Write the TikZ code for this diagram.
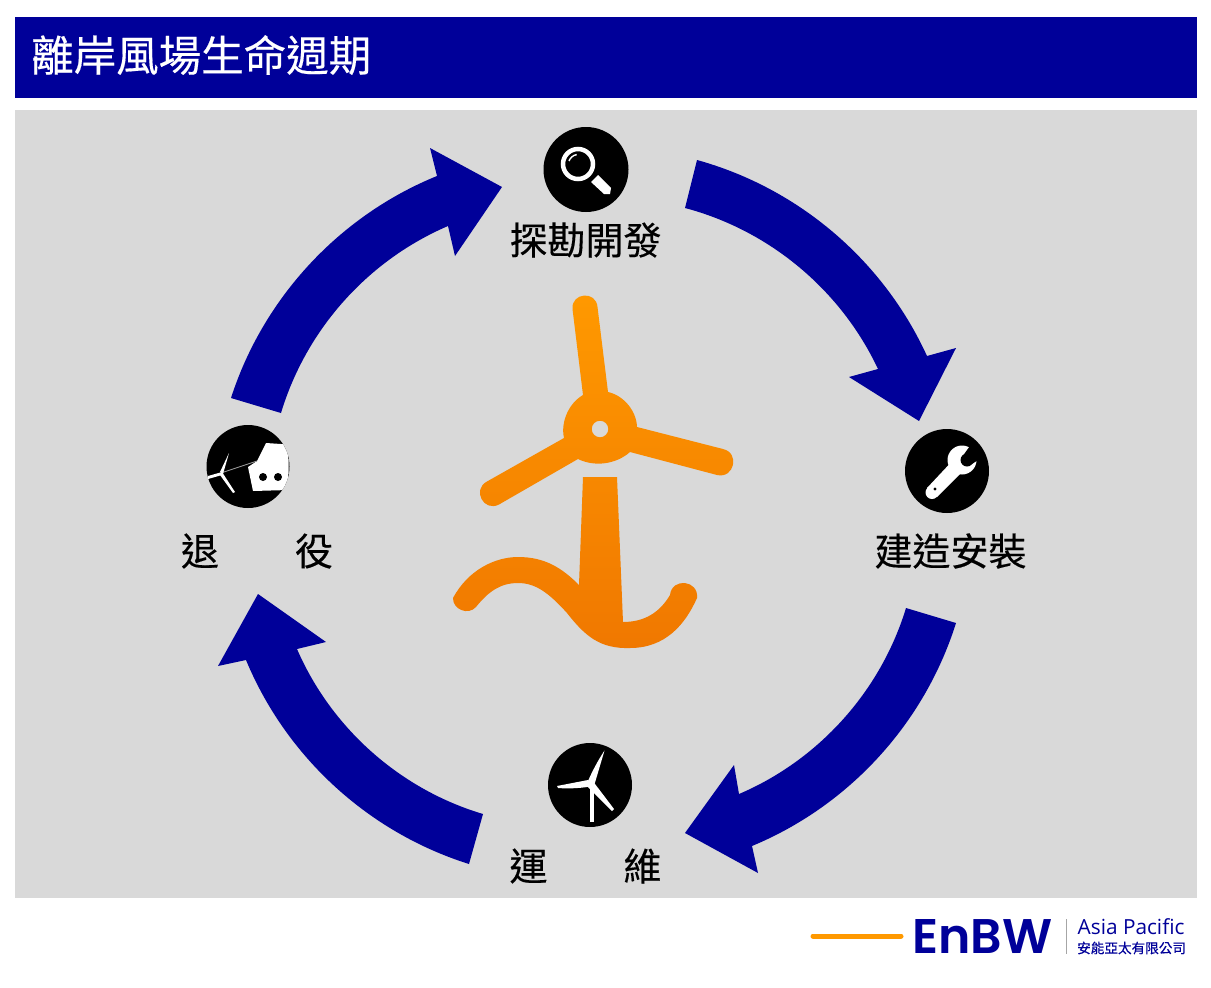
\documentclass[tikz,border=0pt]{standalone}
\usepackage{fontspec}
\usepackage{graphicx}
\newfontfamily\cjk{Noto Sans CJK TC}
\newfontfamily\cjkm{Noto Sans CJK TC}[FakeBold=0.35]
\setmainfont{Open Sans}
\definecolor{navy}{HTML}{000099}
\definecolor{panel}{HTML}{D9D9D9}
\definecolor{orangeA}{HTML}{FF9900}
\definecolor{orangeB}{HTML}{F07800}
\tikzset{
  block/.style={fill=navy,draw=none},
  disc/.style={circle,fill=black,draw=none,minimum size=84pt,inner sep=0pt},
  lbl/.style={inner sep=0pt,font=\cjkm\fontsize{38}{40}\selectfont,text=black},
  iconline/.style={white,line cap=round,line join=round},
  iconfill/.style={fill=white,draw=none},
  outerarc/.style={bend left=25,looseness=.89},
  innerarc/.style={bend right=25,looseness=.89},
  roundend/.style={bend left=90,looseness=1.7}
}
\begin{document}
\begin{tikzpicture}[x=1pt,y=-1pt]
\useasboundingbox (0,0) rectangle (1211,988);
\fill[white] (0,0) rectangle (1211,988);
\fill[navy] (15,17) rectangle (1197,98);
\fill[panel] (15,110) rectangle (1197,898);
\node[anchor=west,inner sep=0pt,text=white,font=\cjkm\fontsize{42.5}{44}\selectfont] (title) at (31,55) {離岸風場生命週期};

% cycle arrows
\path[block] (697,160) to[outerarc] (927,356) -- (956,348) -- (919,421) -- (849,377) -- (878,369) to[innerarc] (685,208) -- cycle;
\path[block] (956,623) to[outerarc] (752,846) -- (758,873) -- (685,833) -- (734,765) -- (739,794) to[innerarc] (906,608) -- cycle;
\path[block] (469,864) to[outerarc] (246,660) -- (218,666) -- (258,594) -- (326,642) -- (297,649) to[innerarc] (483,814) -- cycle;
\path[block] (231,398) to[outerarc] (437,176) -- (430,148) -- (502,187) -- (455,256) -- (448,226) to[innerarc] (281,413) -- cycle;

% central turbine
\path[even odd rule,shade,top color=orangeA,bottom color=orangeB]
  (583,395) -- (572.5,309) to[roundend] (597.5,307) -- (608,392)
  to[bend left=38,looseness=.9] (637,427) -- (723,449) to[roundend] (717,475) -- (630,452)
  to[bend left=34,looseness=.9] (578,459) -- (499,504.5) to[roundend] (487,481.5) -- (564,438)
  to[bend left=36,looseness=.9] (583,395) -- cycle
  (600,429) circle[radius=8.3]
  (583,477) -- (617,477) -- (623,622)
  .. controls (645,622) and (660,612) .. (670,595)
  to[roundend] (697,598)
  .. controls (685,625) and (665,648) .. (630,648)
  .. controls (600,649) and (585,636) .. (567,613)
  .. controls (548,592) and (535,583) .. (518,583)
  .. controls (500,583) and (488,592) .. (476,607)
  to[bend left=70,looseness=1.2] (453,598)
  .. controls (468,570) and (495,557) .. (518,557)
  .. controls (545,557) and (562,568) .. (579,585)
  -- cycle;

% exploration
\node[disc,minimum size=85pt] (explore) at (586,169.5) {};
\draw[white,line width=4.5pt] (578,164) circle[radius=15];
\draw[white,line width=1.4pt] (569,161) arc[start angle=200,end angle=260,radius=10];
\path[iconfill] (591,182) -- (598,175) -- (611,188) -- (610,194) -- (604,194) -- cycle;
\node[lbl] (l1) at (585.5,240) {探勘開發};

% construction
\node[disc] (build) at (947,471) {};
\path[iconfill] (962,460) circle[radius=14.5];
\path[iconfill] (957,456) -- (968,466) -- (937,497) -- (927,488) -- cycle;
\path[iconfill] (932,492.5) circle[radius=6.5];
\fill[black] (967,460) circle[radius=6.5];
\fill[black] (963.5,455) -- (972,443) -- (984,456) -- (972,464) -- cycle;
\fill[black] (935,489) circle[radius=1.6];
\node[lbl] (l2) at (950.5,551) {建造安裝};

% operations
\node[disc] (oper) at (590,785) {};
\draw[iconline,line width=3.4pt,line cap=butt] (592,784) -- (592,822);
\path[iconfill] (604.5,750.5) -- (594,786) -- (588,781) .. controls (592,772) and (597,762) .. cycle;
\path[iconfill] (557,786) -- (588,780) -- (594,786) .. controls (582,788) and (570,789) .. (558,788) -- cycle;
\path[iconfill] (592,780) -- (614,809) -- (612,811) -- (588,787) -- cycle;
\node[lbl] (l3) at (585.5,866) {運　　維};

% decommissioning
\node[disc,minimum size=83pt] (decom) at (248,466.5) {};
\begin{scope}
\clip (248,466.5) circle[radius=41.5];
\path[iconfill] (248,467) -- (257,461) -- (266,443) -- (281,444) -- (288.5,444) -- (288.5,490) -- (253,491) -- cycle;
\end{scope}
\fill[black] (263,477) circle[radius=4];
\fill[black] (278,477) circle[radius=4];
\draw[gray!80!white,line width=.9pt] (221,473) -- (257,461);
\path[iconfill] (229,453) -- (223,474) -- (220,472) -- cycle;
\path[iconfill] (208,476) -- (222,472) -- (222,475) -- (208,479) -- cycle;
\path[iconfill] (222,472) -- (235,492) -- (233,493) -- (220,475) -- cycle;
\node[lbl] (l4) at (257,551) {退　　役};

% logo
\draw[orangeA,line width=5pt,line cap=round] (813,936) -- (901,936);
\node[inner sep=0pt,anchor=north west,text=navy] (enbw) at (912,919) {\resizebox{140pt}{34pt}{\fontspec{Poppins}[BoldFont={* SemiBold}]\bfseries EnBW}};
\draw[gray!70!white,line width=1pt] (1066,919) -- (1066,954);
\node[anchor=west,inner sep=0pt,text=navy,font=\fontspec{Open Sans}\fontsize{20.8}{22}\selectfont] (ap) at (1077.5,927) {Asia Pacific};
\node[anchor=west,inner sep=0pt,text=navy,font=\cjkm\fontsize{13.6}{15}\selectfont] (zh) at (1077,948) {安能亞太有限公司};
\end{tikzpicture}
\end{document}
